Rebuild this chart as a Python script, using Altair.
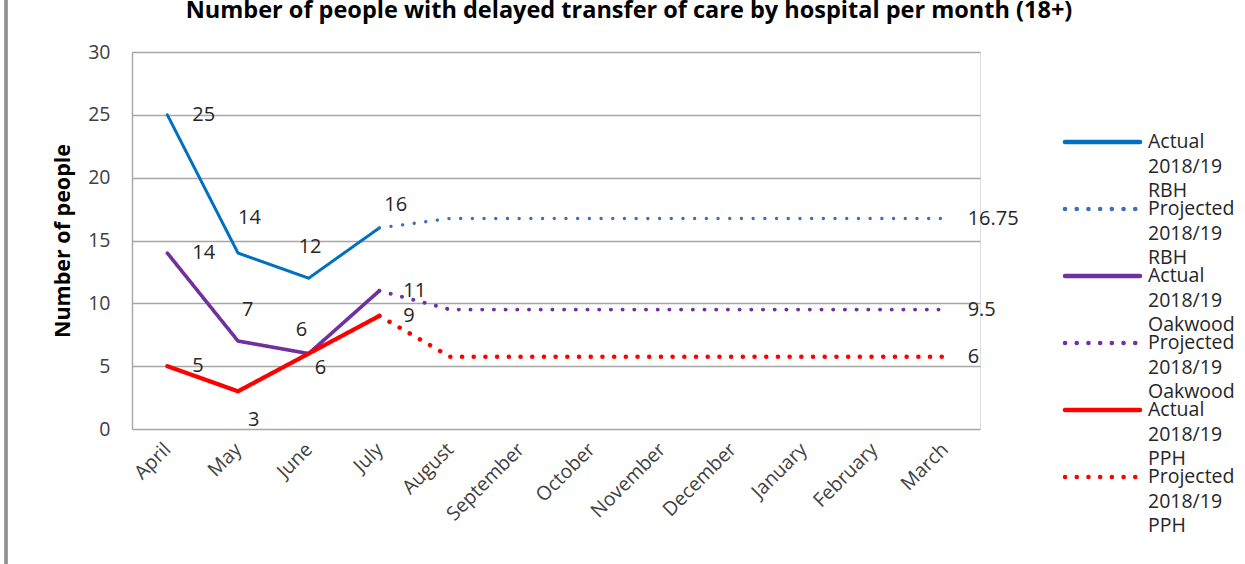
import altair as alt
import pandas as pd

# ---------------- data ----------------
title_text = "Number of people with delayed transfer of care by hospital per month (18+)"

months = ["April", "May", "June", "July", "August", "September", "October",
          "November", "December", "January", "February", "March"]

series_names = ["Actual 2018/19 RBH", "Projected 2018/19 RBH",
                "Actual 2018/19 Oakwood", "Projected 2018/19 Oakwood",
                "Actual 2018/19 PPH", "Projected 2018/19 PPH"]
legend_lines = ["Actual\n2018/19\nRBH", "Projected\n2018/19\nRBH",
                "Actual\n2018/19\nOakwood", "Projected\n2018/19\nOakwood",
                "Actual\n2018/19\nPPH", "Projected\n2018/19\nPPH"]

actual_months = ["April", "May", "June", "July"]
projected_months = ["July", "August", "September", "October", "November",
                    "December", "January", "February", "March"]

rbh_actual = [25, 14, 12, 16]
rbh_projected = [16, 16.75, 16.75, 16.75, 16.75, 16.75, 16.75, 16.75, 16.75]
oak_actual = [14, 7, 6, 11]
oak_projected = [11, 9.5, 9.5, 9.5, 9.5, 9.5, 9.5, 9.5, 9.5]
pph_actual = [5, 3, 6, 9]
pph_projected = [9, 5.75, 5.75, 5.75, 5.75, 5.75, 5.75, 5.75, 5.75]

end_label_texts = ["16.75", "9.5", "6"]

# label offsets (pixels) relative to the data point
rbh_dx = [25, 0, -10, 5]
rbh_dy = [0, -35, -31, -23]
oak_dx = [25, 4, -13, 24]
oak_dy = [0, -31, -24, 0]
pph_dx = [25, 10, 6, 24]
pph_dy = [0, 29, 14, 0]
end_dx = 23

colors = ["#0070C0", "#3F6EB8", "#7030A0", "#7030A0", "#FF0000", "#FF0000"]
dashes = [[1, 0], [0.1, 11.6], [1, 0], [0.1, 11.6], [1, 0], [0.1, 11.6]]
widths = [3, 4.5, 4, 4.5, 4.5, 4.5]

# ---------------- tables ----------------
rows = []
for name, ms, vals in [
    (series_names[0], actual_months, rbh_actual),
    (series_names[1], projected_months, rbh_projected),
    (series_names[2], actual_months, oak_actual),
    (series_names[3], projected_months, oak_projected),
    (series_names[4], actual_months, pph_actual),
    (series_names[5], projected_months, pph_projected),
]:
    for m, v in zip(ms, vals):
        rows.append({"month": m, "value": v, "series": name})
lines_df = pd.DataFrame(rows)

lab = []
for vals, dxs, dys in [(rbh_actual, rbh_dx, rbh_dy), (oak_actual, oak_dx, oak_dy),
                       (pph_actual, pph_dx, pph_dy)]:
    for m, v, dx, dy in zip(actual_months, vals, dxs, dys):
        lab.append({"month": m, "value": v, "text": str(v), "dx": dx, "dy": dy})
for vals, t in zip([rbh_projected, oak_projected, pph_projected], end_label_texts):
    lab.append({"month": projected_months[-1], "value": vals[-1], "text": t,
                "dx": end_dx, "dy": 0})
labels_df = pd.DataFrame(lab)

legend_df = pd.DataFrame({"series": series_names, "idx": list(range(6)),
                          "label": legend_lines})
title_df = pd.DataFrame({"t": [title_text]})

FONT = "Open Sans"
W, H = 848, 377

color_scale = alt.Scale(domain=series_names, range=colors)
dash_scale = alt.Scale(domain=series_names, range=dashes)
width_scale = alt.Scale(domain=series_names, range=widths)
x_scale = alt.Scale(domain=months, type="point", padding=0.5)

x_enc = alt.X("month:N", scale=x_scale, sort=months,
              axis=alt.Axis(title=None, labelAngle=315, labelAlign="right",
                            labelBaseline="middle", labelPadding=17, ticks=False,
                            domain=False, grid=False, labelFontSize=19.5,
                            labelFont=FONT, labelColor="#404040"))
y_enc = alt.Y("value:Q", scale=alt.Scale(domain=[0, 30]),
              axis=alt.Axis(values=[0, 5, 10, 15, 20, 25, 30], title="Number of people",
                            titleFont=FONT, titleFontSize=21.5, titleFontWeight="bold",
                            titleColor="#000000", titleX=-69, titleY=188.5,
                            titleAngle=270, titleBaseline="middle", titleAlign="center",
                            labelFont=FONT, labelFontSize=19.5, labelColor="#404040",
                            labelPadding=22, ticks=False, domainColor="#A6A6A6",
                            domainWidth=1.4, gridColor="#A6A6A6", gridWidth=1.4))

lines = alt.Chart(lines_df).mark_line(strokeCap="round", strokeJoin="round").encode(
    x=x_enc, y=y_enc,
    color=alt.Color("series:N", scale=color_scale, legend=None),
    strokeDash=alt.StrokeDash("series:N", scale=dash_scale, legend=None),
    strokeWidth=alt.StrokeWidth("series:N", scale=width_scale, legend=None),
    detail="series:N",
)

# one text layer per vertical offset
text_layers = []
for d in sorted(set(labels_df["dy"])):
    text_layers.append(
        alt.Chart(labels_df).transform_filter(alt.datum.dy == int(d)).mark_text(
            align="left", baseline="middle", font=FONT, fontSize=20,
            color="#262626", dy=int(d)).encode(
            x=alt.X("month:N", scale=x_scale, sort=months),
            y=alt.Y("value:Q"),
            xOffset=alt.XOffset("dx:Q", scale=None),
            text="text:N",
        )
    )

main = alt.layer(lines, *text_layers)

leg_y = alt.Y("idx:O", scale=alt.Scale(type="point", range=[90, 425], padding=0),
              axis=None)
leg_rules = alt.Chart(legend_df).mark_rule(strokeCap="round").encode(
    x=alt.value(933), x2=alt.value(1008), y=leg_y,
    color=alt.Color("series:N", scale=color_scale, legend=None),
    strokeDash=alt.StrokeDash("series:N", scale=dash_scale, legend=None),
    strokeWidth=alt.value(4.5),
)
leg_text = alt.Chart(legend_df).mark_text(align="left", baseline="alphabetic", dy=6,
                                          lineBreak="\n", lineHeight=24.5, font=FONT,
                                          fontSize=19.5, color="#262626").encode(
    x=alt.value(1016), y=leg_y, text="label:N",
)
border = alt.Chart(legend_df).mark_rule(color="#909090", strokeWidth=2.5).encode(
    x=alt.value(-126), y=alt.value(-52), y2=alt.value(512),
)
title_mark = alt.Chart(title_df).mark_text(
    align="center", baseline="alphabetic", font=FONT, fontSize=23.5,
    fontWeight="bold", color="#000000").encode(
    x=alt.value(497), y=alt.value(-34), text="t:N",
)

legend = alt.layer(leg_rules, leg_text, border, title_mark)

chart = alt.layer(main, legend).resolve_scale(y="independent").properties(
    width=W, height=H,
    autosize=alt.AutoSizeParams(type="none"),
    padding={"left": 132, "top": 52, "right": 265, "bottom": 135},
).configure_view(stroke=None).configure(background="white")

chart.save("out.html", embed_options={"renderer": "svg", "actions": False})
